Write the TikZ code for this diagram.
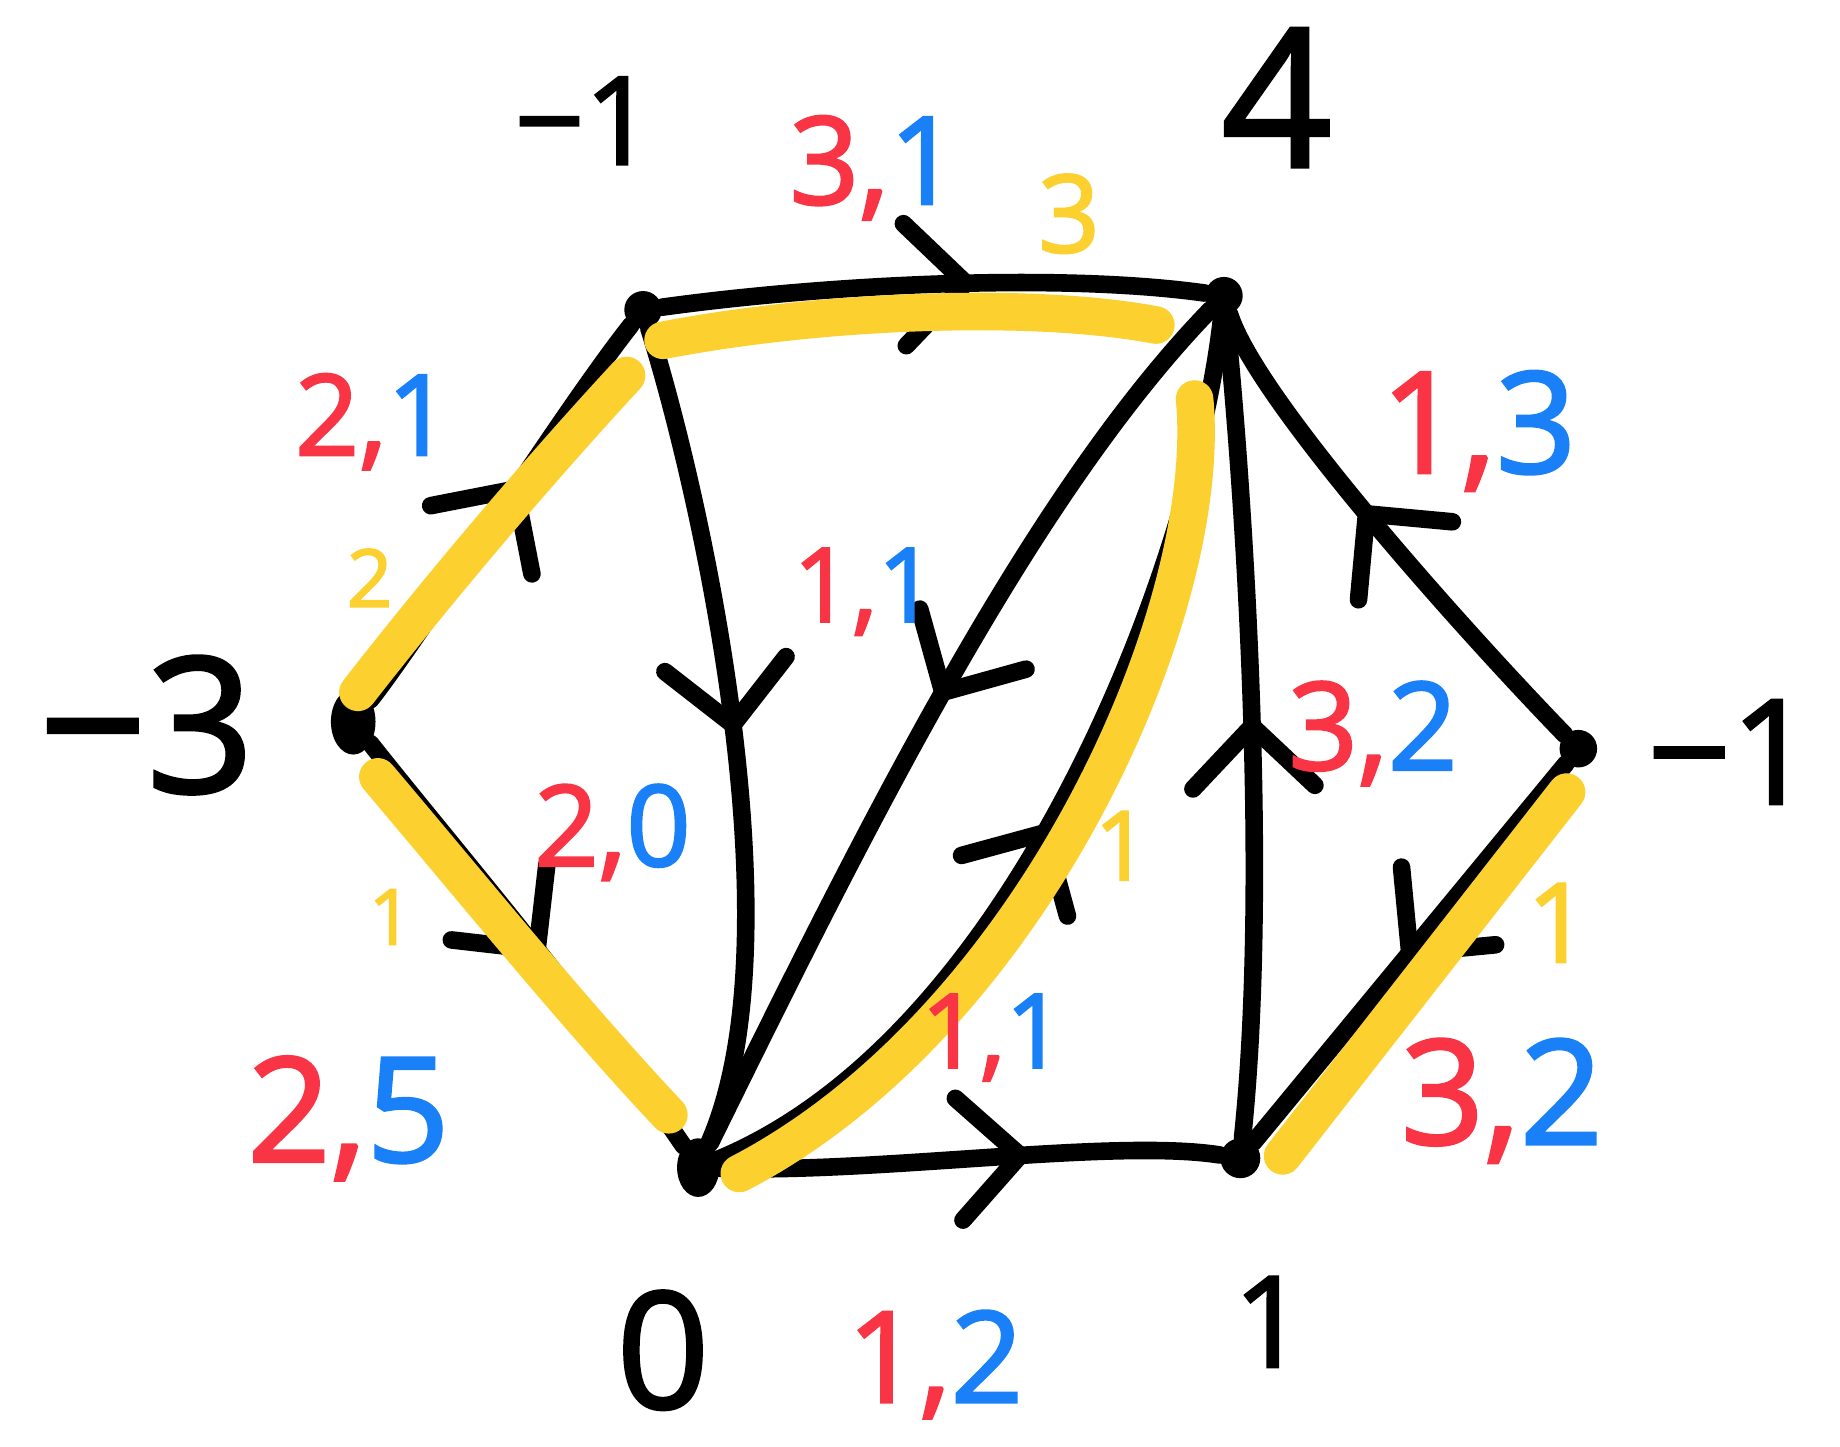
\documentclass[tikz,border=0pt]{standalone}
\usepackage{fontspec}
\setmainfont{Open Sans}[FakeBold=2]
\usetikzlibrary{decorations.markings,shapes.geometric}
\definecolor{hred}{HTML}{F93545}
\definecolor{hblue}{HTML}{1A80F8}
\definecolor{hyel}{HTML}{FBD02F}
\tikzset{
  edge/.style={line width=7.5pt,line cap=round},
  vtx/.style={circle,fill=black,inner sep=0pt,minimum size=#1},
  vtxe/.style={ellipse,fill=black,inner sep=0pt},
  arr/.style={postaction={decorate,decoration={markings,mark=at position #1 with {\draw[line width=7.5pt,line cap=round,line join=round] (-26pt,26pt)--(0pt,0pt)--(-26pt,-26pt);}}}},
  hl/.style={hyel,line width=16pt,line cap=round},
  lab/.style={anchor=base,inner sep=0pt,font=\fontsize{#1}{#1}\selectfont},
}
\newcommand{\rb}[2]{\textcolor{hred}{#1,}\textcolor{hblue}{#2}}
\begin{document}
\begin{tikzpicture}[x=0.5pt,y=-0.5pt]
\fill[white] (0,0) rectangle (1568,1233);
\useasboundingbox (0,0) rectangle (1568,1233);

% vertices
\node[vtx=16pt] (A) at (548,264) {};
\node[vtx=16pt] (B) at (1043,252) {};
\node[vtxe,minimum width=19pt,minimum height=28pt] (C) at (301,615) {};
\node[vtx=16pt] (D) at (1345,638) {};
\node[vtxe,minimum width=18pt,minimum height=25pt] (E) at (595,995) {};
\node[vtx=17pt] (F) at (1057,987) {};

% edges with arrow marks
\draw[edge,arr=0.56] (A) .. controls (700,243) and (900,232) .. (B);
\draw[edge,arr=0.56] (C) .. controls (360,540) and (480,350) .. (A);
\draw[edge,arr=0.52] (C) .. controls (380,715) and (500,855) .. (E);
\draw[edge,arr=0.49] (A) .. controls (600,430) and (680,800) .. (E);
\draw[edge,arr=0.48] (B) .. controls (880,420) and (740,700) .. (E);
\draw[edge,arr=0.46] (E) .. controls (870,880) and (1020,470) .. (B);
\draw[edge,arr=0.5] (F) .. controls (1082,750) and (1060,420) .. (B);
\draw[edge,arr=0.55] (D) .. controls (1250,540) and (1070,340) .. (B);
\draw[edge,arr=0.5] (D) -- (F);
\draw[edge,arr=0.6] (E) .. controls (750,1000) and (950,970) .. (F);

% yellow highlights
\draw[hl] (565,290) .. controls (700,264) and (880,257) .. (985,277);
\draw[hl] (305,590) .. controls (375,500) and (460,400) .. (534,320);
\draw[hl] (322,662) .. controls (405,760) and (490,865) .. (570,950);
\draw[hl] (630,1000) .. controls (880,870) and (1035,520) .. (1018,340);
\draw[hl] (1335,675) -- (1093,985);

% vertex labels
\node[lab=52pt] (lA) at (498,140) {−1};
\node[lab=82pt] (lB) at (1088,142) {4};
\node[lab=80pt] (lC) at (125,675) {−3};
\node[lab=62pt] (lD) at (1475,685) {−1};
\node[lab=69pt] (lE) at (565,1200) {0};
\node[lab=54pt] (lF) at (1082,1165) {1};

% edge labels
\node[lab=52pt] (eAB) at (745,174) {\rb{3}{1}};
\node[lab=48pt] (eCA) at (318,388) {\rb{2}{1}};
\node[lab=48pt] (eCE) at (522,738) {\rb{2}{0}};
\node[lab=62pt] (eX) at (297,990) {\rb{2}{5}};
\node[lab=54pt] (eEF) at (797,1195) {\rb{1}{2}};
\node[lab=44pt] (eAE) at (737,530) {\rb{1}{1}};
\node[lab=44pt] (eBE) at (846,910) {\rb{1}{1}};
\node[lab=60pt] (eBD) at (1260,403) {\rb{1}{3}};
\node[lab=52pt] (eBF) at (1170,656) {\rb{3}{2}};
\node[lab=62pt] (eDF) at (1280,975) {\rb{3}{2}};

% yellow numbers
\node[lab=46pt,text=hyel] (y1) at (911,215) {3};
\node[lab=34pt,text=hyel] (y2) at (315,517) {2};
\node[lab=33pt,text=hyel] (y3) at (333,805) {1};
\node[lab=41pt,text=hyel] (y4) at (956,750) {1};
\node[lab=47pt,text=hyel] (y5) at (1328,820) {1};
\end{tikzpicture}
\end{document}
